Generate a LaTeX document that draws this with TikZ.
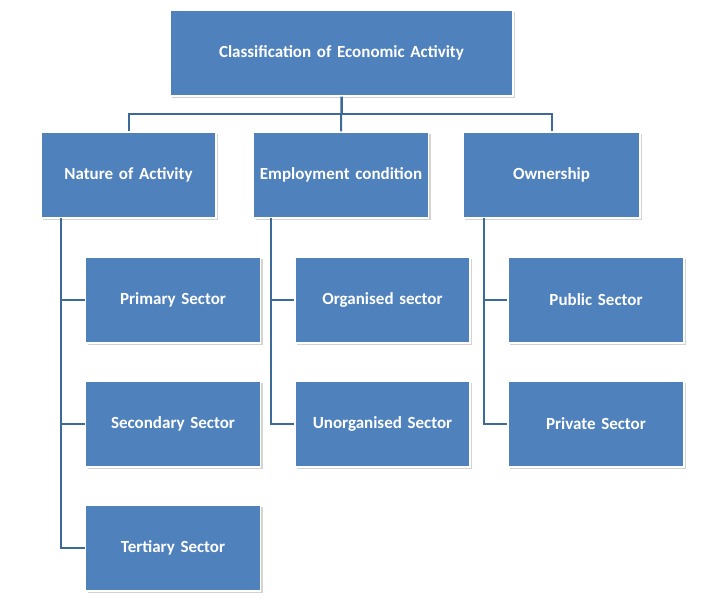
\documentclass[tikz,border=0pt]{standalone}
\usepackage{fontspec}
\setmainfont{Carlito}
\usetikzlibrary{shadows}
\definecolor{boxfill}{HTML}{4F81BD}
\definecolor{linec}{HTML}{3D6A99}
\begin{document}
\begin{tikzpicture}[x=1pt,y=-1pt,
  box/.style={draw=white,line width=1.2pt,fill=boxfill,text=white,font=\bfseries\fontsize{17}{20}\selectfont,align=center,minimum width=#1,minimum height=86pt,inner sep=2pt,text width=#1-8pt,drop shadow={shadow xshift=2pt,shadow yshift=-2pt,opacity=0.35}},
  box/.default=175pt,
  conn/.style={draw=linec,line width=2pt}]
\useasboundingbox (0,0) rectangle (724,602);
\node[box=343pt] (top) at (341.5,53) {Classification of Economic Activity};
\node[box] (nat) at (128.5,175) {Nature of Activity};
\node[box] (emp) at (341,175) {Employment condition};
\node[box=177pt] (own) at (551.5,175) {Ownership};
\node[box] (pri) at (173,300) {Primary Sector};
\node[box] (sec) at (173,424) {Secondary Sector};
\node[box] (ter) at (173,548) {Tertiary Sector};
\node[box] (org) at (382.5,300) {Organised sector};
\node[box] (unorg) at (382.5,424) {Unorganised Sector};
\node[box=176pt] (pub) at (596,300) {Public Sector};
\node[box=176pt] (pvt) at (596,424) {Private Sector};
\begin{scope}[on background layer/.try]
\end{scope}
\draw[conn] (top.south) -- ++(0,17) -| (nat.north);
\draw[conn] (top.south) -- ++(0,17) -| (own.north);
\draw[conn] (top.south) -- (emp.north);
\draw[conn] (61,218) |- (ter.west);
\draw[conn] (61,300) -- (pri.west);
\draw[conn] (61,424) -- (sec.west);
\draw[conn] (271,218) |- (unorg.west);
\draw[conn] (271,300) -- (org.west);
\draw[conn] (484,218) |- (pvt.west);
\draw[conn] (484,300) -- (pub.west);
\end{tikzpicture}
\end{document}
